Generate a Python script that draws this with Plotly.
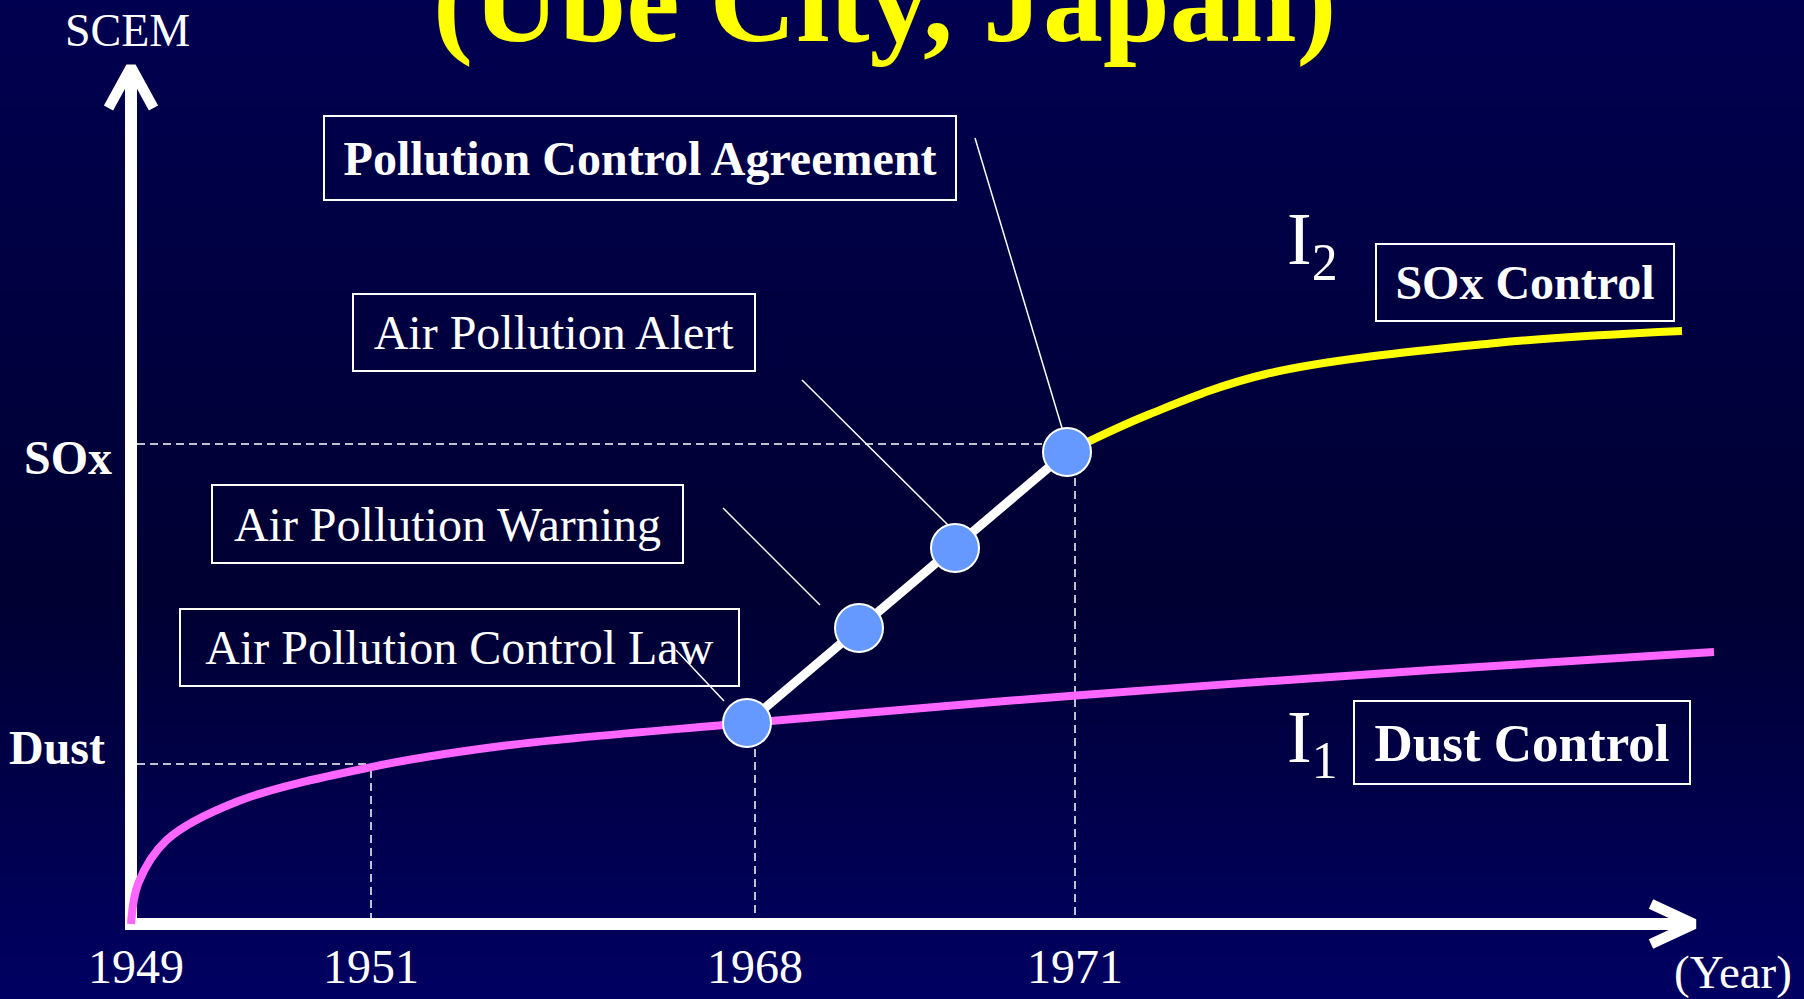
import plotly.graph_objects as go

# ---------------- data (schematic units) ----------------
years = ["1949", "1951", "1968", "1971"]
year_x = [0.5, 24.0, 62.4, 94.4]

level_names = ["SOx", "Dust"]
level_y = [48.0, 16.0]

milestones = ["Air Pollution Control Law", "Air Pollution Warning",
              "Air Pollution Alert", "Pollution Control Agreement"]
milestone_x = [61.6, 72.8, 82.4, 93.6]
milestone_y = [20.1, 29.6, 37.6, 47.2]

# I1 : dust control curve
i1_x = [0.0, 0.73, 3.57, 10.57, 23.9, 37.1, 61.6, 94.5, 130.0, 158.3]
i1_y = [0.0, 4.07, 8.4, 12.23, 15.67, 17.8, 20.1, 22.85, 25.4, 27.2]

# I2 : SOx control curve
i2_x = [93.6, 101.9, 113.5, 136.5, 155.1]
i2_y = [47.2, 51.0, 55.0, 58.1, 59.3]

series_names = ["I<sub>1</sub>", "I<sub>2</sub>"]
series_labels = ["Dust Control", "SOx Control"]

title_text = "(Ube City, Japan)"
y_title = "SCEM"
x_title = "(Year)"

# ---------------- styling / layout ----------------
FONT = "Liberation Serif, Times New Roman, serif"
WHITE = "#FFFFFF"
MAGENTA = "#FF66FF"
YELLOW = "#FFFF00"
DOT = "#6699FF"
XR = [-13.1, 167.3]
YR = [-7.5, 92.4]

fig = go.Figure()

# background vertical gradient
stops = [(0.0, 80), (0.6, 50), (1.0, 98)]
def blue_at(t):
    for (t0, b0), (t1, b1) in zip(stops[:-1], stops[1:]):
        if t0 <= t <= t1:
            return b0 + (b1 - b0) * (t - t0) / (t1 - t0)
    return stops[-1][1]
nb = 120
for i in range(nb):
    t = (i + 0.5) / nb
    b = int(round(blue_at(t)))
    fig.add_shape(type="rect", xref="paper", yref="paper", x0=0, x1=1,
                  y0=1 - (i + 1) / nb - 0.002, y1=1 - i / nb,
                  fillcolor=f"rgb(0,0,{b})", line=dict(width=0), layer="below")

dash = dict(color=WHITE, width=1.5, dash="8px,5px")
axis_gap = 0.6

# dashed reference lines
fig.add_trace(go.Scatter(x=[axis_gap, milestone_x[3]], y=[level_y[0]] * 2, mode="lines", line=dash))
fig.add_trace(go.Scatter(x=[axis_gap, year_x[1]], y=[level_y[1]] * 2, mode="lines", line=dash))
fig.add_trace(go.Scatter(x=[year_x[1]] * 2, y=[15.4, axis_gap], mode="lines", line=dash))
fig.add_trace(go.Scatter(x=[year_x[2]] * 2, y=[milestone_y[0], axis_gap], mode="lines", line=dash))
fig.add_trace(go.Scatter(x=[year_x[3]] * 2, y=[milestone_y[3], axis_gap], mode="lines", line=dash))

# axes with arrows
fig.add_trace(go.Scatter(x=[-0.6, 155.3], y=[0, 0], mode="lines", line=dict(color=WHITE, width=12)))
fig.add_trace(go.Scatter(x=[0, 0], y=[-0.6, 84.8], mode="lines", line=dict(color=WHITE, width=12)))
fig.add_trace(go.Scatter(x=[152.0, 156.3, 152.0], y=[2.0, 0, -2.0], mode="lines",
                         line=dict(color=WHITE, width=10.5)))
fig.add_trace(go.Scatter(x=[-2.25, 0, 2.25], y=[81.6, 85.7, 81.6], mode="lines",
                         line=dict(color=WHITE, width=10.5)))

# leader lines from label boxes to milestones
leaders = [
    ([54.5, 59.3], [27.4, 22.3]),
    ([59.2, 68.9], [41.6, 31.9]),
    ([67.1, 81.7], [54.4, 39.9]),
    ([84.4, 93.1], [78.6, 49.6]),
]
for lx, ly in leaders:
    fig.add_trace(go.Scatter(x=lx, y=ly, mode="lines", line=dict(color=WHITE, width=1.5)))

# curves
fig.add_trace(go.Scatter(x=i1_x, y=i1_y, mode="lines",
                         line=dict(color=MAGENTA, width=8, shape="spline", smoothing=1.0, simplify=False)))
fig.add_trace(go.Scatter(x=i2_x, y=i2_y, mode="lines",
                         line=dict(color=YELLOW, width=8, shape="spline", smoothing=1.0, simplify=False)))
fig.add_trace(go.Scatter(x=milestone_x, y=milestone_y, mode="lines", line=dict(color=WHITE, width=9)))
fig.add_trace(go.Scatter(x=milestone_x, y=milestone_y, mode="markers",
                         marker=dict(size=48, color=DOT, line=dict(color=WHITE, width=2))))

ann = []
def txt(x, y, s, size, bold=False, color=WHITE, xanchor="center", yanchor="middle", **kw):
    d = dict(x=x, y=y, xref="x", yref="y", text=f"<b>{s}</b>" if bold else s, showarrow=False,
             font=dict(family=FONT, size=size, color=color), xanchor=xanchor, yanchor=yanchor)
    d.update(kw)
    ann.append(d)

# title
txt(75.3, 92.35, title_text, 120, bold=True, color=YELLOW)
# axis titles
txt(-0.4, 89.35, y_title, 46)
txt(160.2, -4.8, x_title, 47)
# year ticks
for yx, yl in zip(year_x, years):
    txt(yx, -4.2, yl, 48)
# level labels
txt(-1.7, 46.7, level_names[0], 48, bold=True, xanchor="right")
txt(-2.4, 17.7, level_names[1], 48, bold=True, xanchor="right")

# milestone boxes: (center x, center y, box w, box h, bold)
box_spec = {
    "Air Pollution Control Law": (32.85, 27.65, 561, 79, False),
    "Air Pollution Warning": (31.65, 40.0, 473, 80, False),
    "Air Pollution Alert": (42.3, 59.15, 404, 79, False),
    "Pollution Control Agreement": (50.9, 76.6, 634, 86, True),
}
for m in milestones:
    cx, cy, w, h, b = box_spec[m]
    txt(cx, cy, m, 48, bold=b, width=w - 4, height=h - 4, bordercolor=WHITE,
        borderwidth=2, borderpad=0, align="center", valign="middle")

# series labels
series_spec = [
    (115.4, 18.2, 139.1, 18.15, 338, 85, 53),
    (115.4, 67.95, 139.4, 64.15, 300, 79, 48),
]
for name, lab, (ix, iy, bx, by, w, h, fs) in zip(series_names, series_labels, series_spec):
    txt(ix, iy, name, 74, xanchor="left")
    txt(bx, by, lab, fs, bold=True, width=w - 4, height=h - 4, bordercolor=WHITE,
        borderwidth=2, borderpad=0, align="center", valign="middle")

fig.update_layout(
    width=1804, height=999,
    margin=dict(l=0, r=0, t=0, b=0),
    paper_bgcolor="#000040", plot_bgcolor="rgba(0,0,0,0)",
    showlegend=False, hovermode=False,
    xaxis=dict(range=XR, visible=False, fixedrange=True),
    yaxis=dict(range=YR, visible=False, fixedrange=True),
    annotations=ann,
)

fig.write_html("out.html", config={"displayModeBar": False, "staticPlot": True},
               post_script="document.body.style.margin='0';document.body.style.overflow='hidden';")
